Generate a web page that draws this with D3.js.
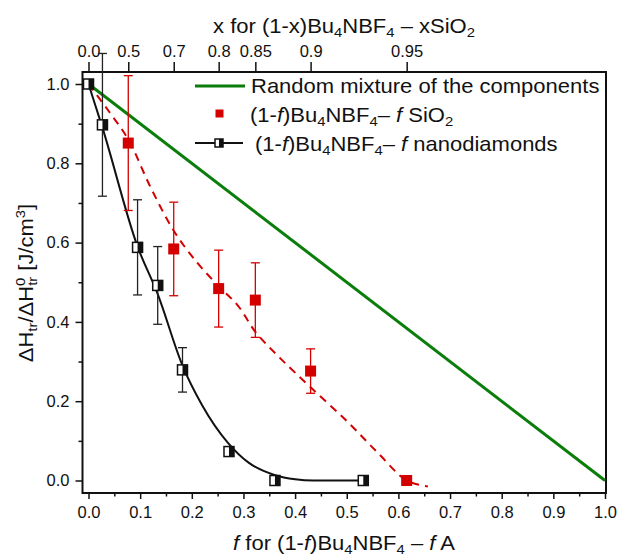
<!DOCTYPE html>
<html>
<head>
<meta charset="utf-8">
<script src="https://cdn.jsdelivr.net/npm/d3@7"></script>
<style>
body { margin: 0; background: #fff; }
svg { font-family: "Liberation Sans", Arial, sans-serif; }
.axis text { font-size: 16.5px; fill: #111; }
.axis line { stroke: #111; stroke-width: 1.5; }
.axis path { display: none; }
</style>
</head>
<body>
<svg id="chart" width="619" height="558"></svg>
<script>
// tick values
var bottomTicks = [0, 0.1, 0.2, 0.3, 0.4, 0.5, 0.6, 0.7, 0.8, 0.9, 1.0];
var bottomMinor = [0.05, 0.15, 0.25, 0.35, 0.45, 0.55, 0.65, 0.75, 0.85, 0.95];
var leftTicks = [0, 0.2, 0.4, 0.6, 0.8, 1.0];
var leftMinor = [0.1, 0.3, 0.5, 0.7, 0.9];
var topTickF = [0, 0.077, 0.165, 0.252, 0.323, 0.430, 0.616];
var topLabels = ["0.0", "0.5", "0.7", "0.8", "0.85", "0.9", "0.95"];

// random mixture line
var randomF = [0, 1];
var randomH = [1, 0];

// (1-f)Bu4NBF4 - f SiO2
var sio2F = [0.077, 0.165, 0.252, 0.323, 0.430, 0.616];
var sio2H = [0.851, 0.584, 0.484, 0.455, 0.276, 0.0];
var sio2Err = [0.17, 0.118, 0.097, 0.094, 0.056, 0];
var sio2FitF = [0, 0.04, 0.077, 0.12, 0.165, 0.21, 0.252, 0.29, 0.323, 0.37, 0.43, 0.5, 0.56, 0.616, 0.657];
var sio2FitH = [1.0, 0.93, 0.86, 0.74, 0.63, 0.55, 0.49, 0.44, 0.375, 0.31, 0.235, 0.15, 0.07, 0.0, -0.015];

// (1-f)Bu4NBF4 - f nanodiamonds
var ndF = [0, 0.027, 0.095, 0.134, 0.182, 0.272, 0.361, 0.532];
var ndH = [1.0, 0.897, 0.588, 0.492, 0.279, 0.073, 0.0, 0.0];
var ndErr = [0, 0.18, 0.12, 0.098, 0.056, 0.012, 0, 0];
var ndFitF = [0, 0.027, 0.095, 0.134, 0.182, 0.22, 0.27, 0.31, 0.36, 0.40, 0.436, 0.532];
var ndFitH = [1.0, 0.89, 0.59, 0.47, 0.29, 0.19, 0.095, 0.045, 0.014, 0.003, 0.0, 0.0];

var svg = d3.select("#chart");
var frameL = 82.5, frameR = 606, frameT = 72, frameB = 493;

var x = d3.scaleLinear().domain([0, 1]).range([88.5, 605]);
var y = d3.scaleLinear().domain([0, 1]).range([480.5, 84]);

var red = "#d40000";
var green = "#0b7d0b";
var stretch = 1.1;

// axes
svg.append("g").attr("class", "axis")
	.attr("transform", "translate(0," + frameB + ")")
	.call(d3.axisBottom(x).tickValues(bottomTicks).tickSize(6).tickPadding(7).tickFormat(d3.format(".1f")));
svg.append("g").attr("class", "axis")
	.attr("transform", "translate(0," + frameB + ")")
	.call(d3.axisBottom(x).tickValues(bottomMinor).tickSize(3.5).tickFormat(""));

svg.append("g").attr("class", "axis")
	.attr("transform", "translate(" + frameL + ",0)")
	.call(d3.axisLeft(y).tickValues(leftTicks).tickSize(7).tickPadding(6).tickFormat(d3.format(".1f")));
svg.append("g").attr("class", "axis")
	.attr("transform", "translate(" + frameL + ",0)")
	.call(d3.axisLeft(y).tickValues(leftMinor).tickSize(4).tickFormat(""));

svg.append("g").attr("class", "axis")
	.attr("transform", "translate(0," + frameT + ")")
	.call(d3.axisTop(x).tickValues(topTickF).tickSize(10).tickPadding(5).tickFormat(function(d, i){
		return topLabels[i];
	}));

// frame
svg.append("rect")
	.attr("x", frameL).attr("y", frameT)
	.attr("width", frameR - frameL).attr("height", frameB - frameT)
	.attr("fill", "none").attr("stroke", "#111").attr("stroke-width", 2);

var line = d3.line()
	.x(function(d){ return x(d[0]); })
	.y(function(d){ return y(d[1]); });

// random mixture
svg.append("path")
	.attr("d", line(d3.zip(randomF, randomH)))
	.attr("fill", "none").attr("stroke", green).attr("stroke-width", 3);

// SiO2 fit (dashed)
svg.append("path")
	.attr("d", line.curve(d3.curveCatmullRom)(d3.zip(sio2FitF, sio2FitH)))
	.attr("fill", "none").attr("stroke", red).attr("stroke-width", 2)
	.attr("stroke-dasharray", "8,6");

// nanodiamond fit
svg.append("path")
	.attr("d", line.curve(d3.curveMonotoneX)(d3.zip(ndFitF, ndFitH)))
	.attr("fill", "none").attr("stroke", "#111").attr("stroke-width", 2);

// error bars
function errorBars(fs, hs, errs, color){
	var g = svg.append("g");
	fs.forEach(function(f, i){
		if(errs[i] <= 0) return;
		var cx = x(f);
		var y1 = y(hs[i] + errs[i]);
		var y2 = y(hs[i] - errs[i]);
		g.append("line").attr("x1", cx).attr("x2", cx).attr("y1", y1).attr("y2", y2)
			.attr("stroke", color).attr("stroke-width", 1.3);
		[y1, y2].forEach(function(yy){
			g.append("line").attr("x1", cx - 4.5).attr("x2", cx + 4.5).attr("y1", yy).attr("y2", yy)
				.attr("stroke", color).attr("stroke-width", 1.3);
		});
	});
}
errorBars(sio2F, sio2H, sio2Err, red);
errorBars(ndF, ndH, ndErr, "#222");

// SiO2 markers
svg.append("g").selectAll("rect")
	.data(d3.zip(sio2F, sio2H))
	.join("rect")
	.attr("x", function(d){ return x(d[0]) - 5.5; })
	.attr("y", function(d){ return y(d[1]) - 5.5; })
	.attr("width", 11).attr("height", 11)
	.attr("fill", red);

// half filled square marker
function halfSquare(g, cx, cy, s){
	g.append("rect").attr("x", cx - s / 2).attr("y", cy - s / 2)
		.attr("width", s).attr("height", s)
		.attr("fill", "#fff").attr("stroke", "#111").attr("stroke-width", 1.5);
	g.append("rect").attr("x", cx).attr("y", cy - s / 2)
		.attr("width", s / 2).attr("height", s)
		.attr("fill", "#111");
}
var ndG = svg.append("g");
ndF.forEach(function(f, i){
	halfSquare(ndG, x(f), y(ndH[i]), 10);
});

// stretched text helper (the original lettering is a bit wider than Arial)
function label(tx, ty, rot, anchor){
	return svg.append("text")
		.attr("transform", "translate(" + tx + "," + ty + ")" + (rot ? " rotate(" + rot + ")" : "") + " scale(" + stretch + ",1)")
		.attr("text-anchor", anchor || "start")
		.attr("font-size", 20).attr("fill", "#111");
}
function sub(t, s){ t.append("tspan").attr("font-size", 13.5).attr("dy", 4).text(s); }
function back(t, s){ t.append("tspan").attr("dy", -4).text(s); }
function ital(t, s){ t.append("tspan").attr("font-style", "italic").text(s); }
function plain(t, s){ t.append("tspan").text(s); }

// legend
svg.append("line").attr("x1", 195).attr("x2", 245).attr("y1", 86).attr("y2", 86)
	.attr("stroke", green).attr("stroke-width", 3);
plain(label(251, 93), "Random mixture of the components");

svg.append("rect").attr("x", 215.5).attr("y", 109.5).attr("width", 8).attr("height", 8).attr("fill", red);
var t2 = label(250, 122);
plain(t2, "(1-"); ital(t2, "f"); plain(t2, ")Bu"); sub(t2, "4"); back(t2, "NBF"); sub(t2, "4");
back(t2, "\u2013 "); ital(t2, "f"); plain(t2, " SiO"); sub(t2, "2");

svg.append("line").attr("x1", 195).attr("x2", 243).attr("y1", 143).attr("y2", 143)
	.attr("stroke", "#111").attr("stroke-width", 2);
halfSquare(svg, 219, 143, 8);
var t3 = label(255, 151);
plain(t3, "(1-"); ital(t3, "f"); plain(t3, ")Bu"); sub(t3, "4"); back(t3, "NBF"); sub(t3, "4");
back(t3, "\u2013 "); ital(t3, "f"); plain(t3, " nanodiamonds");

// axis titles
var bt = label(344, 550, 0, "middle");
ital(bt, "f"); plain(bt, " for (1-"); ital(bt, "f"); plain(bt, ")Bu"); sub(bt, "4"); back(bt, "NBF"); sub(bt, "4");
back(bt, " \u2013 "); ital(bt, "f"); plain(bt, " A");

var tt = label(344, 33, 0, "middle");
plain(tt, "x for (1-x)Bu"); sub(tt, "4"); back(tt, "NBF"); sub(tt, "4"); back(tt, " \u2013 xSiO"); sub(tt, "2");

var yt = label(33, 283, -90, "middle");
plain(yt, "\u0394H"); sub(yt, "tr"); back(yt, "/\u0394H");
yt.append("tspan").attr("font-size", 13.5).attr("dy", -8).text("0");
yt.append("tspan").attr("font-size", 13.5).attr("dx", -7.5).attr("dy", 12).text("tr");
yt.append("tspan").attr("dy", -4).text(" [J/cm");
yt.append("tspan").attr("font-size", 13.5).attr("dy", -8).text("3");
yt.append("tspan").attr("dy", 8).text("]");
</script>
</body>
</html>
